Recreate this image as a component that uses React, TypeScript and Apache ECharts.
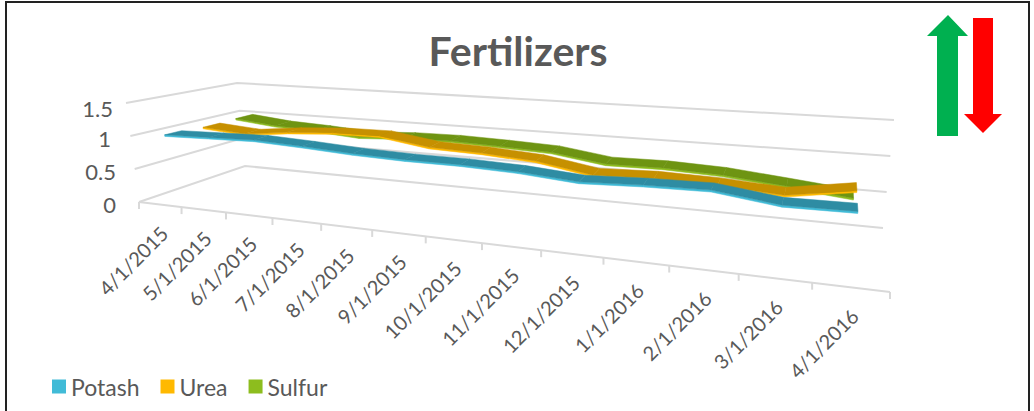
import React, { useEffect, useRef } from "react";
import * as echarts from "echarts";

const categories = ["4/1/2015","5/1/2015","6/1/2015","7/1/2015","8/1/2015","9/1/2015","10/1/2015","11/1/2015","12/1/2015","1/1/2016","2/1/2016","3/1/2016","4/1/2016"];
const yTicks = [0, 0.5, 1, 1.5];
const potash = [1.0, 1.02, 1.04, 1.01, 0.97, 0.95, 0.95, 0.925, 0.865, 0.9, 0.915, 0.81, 0.82];
const urea = [0.97, 0.92, 1.0, 1.05, 1.06, 0.95, 0.93, 0.88, 0.75, 0.78, 0.76, 0.71, 0.85];
const sulfur = [0.98, 0.91, 0.88, 0.83, 0.87, 0.88, 0.86, 0.83, 0.72, 0.73, 0.7, 0.62, 0.535];

const FONT = "Lato, 'Open Sans', sans-serif";
const GRID = "#D9D9D9";
const TEXT = "#595959";

type P = [number, number];
const FL0: P = [139, 202], FL1: P = [126, 103], FR0: P = [890, 292], FR1: P = [906, 163];
const BL0: P = [245, 166], BL1: P = [237, 83], BR0: P = [883, 228], BR1: P = [894, 120];
const PERSP = -0.2795;
const lerp = (a: P, b: P, t: number): P => [a[0] + (b[0] - a[0]) * t, a[1] + (b[1] - a[1]) * t];
function project(u: number, v: number, w: number): P {
  const s = (u * (1 + PERSP)) / (1 + PERSP * u);
  const base = lerp(lerp(FL0, FR0, s), lerp(BL0, BR0, s), w);
  const top = lerp(lerp(FL1, FR1, s), lerp(BL1, BR1, s), w);
  return lerp(base, top, v);
}
function norm(params: any, api: any, x: number, y: number) {
  const c = api.coord([x, y]);
  const cs = params.coordSys;
  return { u: (c[0] - cs.x) / cs.width, v: (cs.y + cs.height - c[1]) / cs.height };
}

function ribbon(values: number[], near: number, far: number, dark: string, light: string) {
  return (params: any, api: any) => {
    const i = params.dataIndex;
    if (i >= values.length - 1) return { type: "group", children: [] };
    const a = norm(params, api, i, values[i]);
    const b = norm(params, api, i + 1, values[i + 1]);
    const drop = 0.016;
    const poly = (pts: P[], fill: string) => ({
      type: "polygon",
      shape: { points: pts },
      style: { fill, stroke: fill, lineWidth: 0.5 },
    });
    return {
      type: "group",
      children: [
        poly([project(a.u, a.v, near), project(b.u, b.v, near), project(b.u, b.v - drop, near), project(a.u, a.v - drop, near)], light),
        poly([project(a.u, a.v, near), project(b.u, b.v, near), project(b.u, b.v, far), project(a.u, a.v, far)], dark),
      ],
    };
  };
}

function renderLevel(params: any, api: any) {
  const val = api.value(1);
  const n = norm(params, api, 0, val);
  const line = { stroke: GRID, lineWidth: 2, fill: "none" };
  const front = project(0, n.v, 0);
  return {
    type: "group",
    children: [
      { type: "polyline", shape: { points: [front, project(0, n.v, 1), project(1, n.v, 1)] }, style: line },
      {
        type: "text",
        x: val === 1.5 ? 113 : val === 1 ? 111 : 116,
        y: front[1] + (val === 1.5 ? 5 : 2),
        style: { text: String(val), font: `22px ${FONT}`, fill: TEXT, align: "right", verticalAlign: "middle" },
      },
    ],
  };
}

function renderCategory(params: any, api: any) {
  const i = params.dataIndex;
  const n = norm(params, api, i, 0);
  const band = 1 / categories.length;
  const tick = (u: number) => {
    const p = project(u, 0, 0);
    return { type: "line", shape: { x1: p[0], y1: p[1], x2: p[0], y2: p[1] + 7 }, style: { stroke: GRID, lineWidth: 2 } };
  };
  const c = project(n.u, 0, 0);
  const kids: any[] = [
    tick(n.u - band / 2),
    {
      type: "text",
      x: c[0] + 4,
      y: c[1] + 25,
      rotation: Math.PI / 4,
      style: { text: categories[i], font: `20px ${FONT}`, fill: TEXT, align: "right", verticalAlign: "middle" },
    },
  ];
  if (i === categories.length - 1) {
    kids.push(tick(1));
    const a = project(0, 0, 0), b = project(1, 0, 0);
    kids.push({ type: "line", shape: { x1: a[0], y1: a[1], x2: b[0], y2: b[1] }, style: { stroke: GRID, lineWidth: 2 } });
  }
  return { type: "group", children: kids };
}

const toData = (v: number[]) => v.map((y, i) => [i, y]);

export default function App() {
  const ref = useRef<HTMLDivElement>(null);
  useEffect(() => {
    document.body.style.margin = "0";
    const chart = echarts.init(ref.current!, null, { renderer: "svg" });
    chart.setOption({
      animation: false,
      backgroundColor: "#fff",
      title: {
        text: "Fertilizers",
        left: 513,
        textAlign: "center",
        top: 25,
        textStyle: { fontFamily: FONT, fontSize: 41, fontWeight: "bold", color: TEXT },
      },
      legend: {
        left: 47,
        top: 370,
        itemWidth: 14,
        itemHeight: 14,
        itemGap: 21,
        icon: "rect",
        data: ["Potash", "Urea", "Sulfur"],
        textStyle: { fontFamily: FONT, fontSize: 23, color: TEXT },
      },
      grid: { left: 0, top: 0, width: 1000, height: 400 },
      xAxis: { type: "category", data: categories, show: false },
      yAxis: { type: "value", min: 0, max: 1.5, show: false },
      series: [
        { type: "custom", name: "levels", z: 1, silent: true, renderItem: renderLevel, data: yTicks.map((y) => [0, y]) },
        { type: "custom", name: "cats", z: 1, silent: true, renderItem: renderCategory, data: categories.map((_, i) => [i, 0]) },
        { type: "custom", name: "Sulfur", z: 2, itemStyle: { color: "#8DBD1E" }, renderItem: ribbon(sulfur, 0.79, 0.95, "#6E9412", "#8DBD1E"), data: toData(sulfur) },
        { type: "custom", name: "Urea", z: 3, itemStyle: { color: "#FFB900" }, renderItem: ribbon(urea, 0.48, 0.64, "#C69000", "#FFB900"), data: toData(urea) },
        { type: "custom", name: "Potash", z: 4, itemStyle: { color: "#41BBD7" }, renderItem: ribbon(potash, 0.12, 0.28, "#2E8CA3", "#41BBD7"), data: toData(potash) },
      ],
      graphic: [
        { type: "rect", shape: { x: 6, y: 2, width: 1023, height: 430 }, style: { fill: "none", stroke: "#222", lineWidth: 2 }, z: 10 },
        { type: "polygon", shape: { points: [[948, 15], [968, 36], [958, 36], [958, 136], [937, 136], [937, 36], [927, 36]] }, style: { fill: "#00B050" }, z: 10 },
        { type: "polygon", shape: { points: [[973, 18], [993, 18], [993, 114], [1002, 114], [983, 133], [964, 114], [973, 114]] }, style: { fill: "#FF0000" }, z: 10 },
      ],
    });
    return () => chart.dispose();
  }, []);
  return <div ref={ref} style={{ width: 1034, height: 411, fontFeatureSettings: '"onum"' }} />;
}
